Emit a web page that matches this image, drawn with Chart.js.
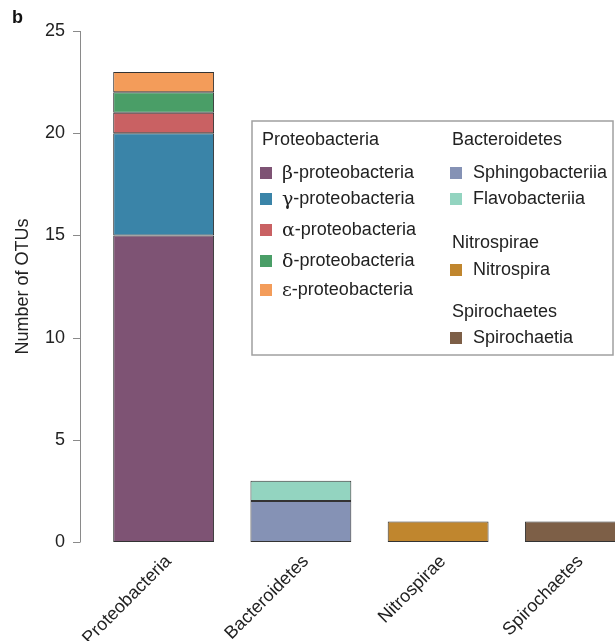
<!DOCTYPE html>
<html><head><meta charset="utf-8">
<script src="https://cdn.jsdelivr.net/npm/chart.js@4"></script>
<style>
html,body{margin:0;padding:0;background:#fff;overflow:hidden;width:615px;height:641px}
#wrap{position:relative;width:615px;height:641px;overflow:hidden}
canvas{position:absolute;left:0;top:0}
</style></head><body>
<div id="wrap"><canvas id="c" width="650" height="641"></canvas></div>
<script>
const categories = ['Proteobacteria', 'Bacteroidetes', 'Nitrospirae', 'Spirochaetes'];
const subclasses = ['β-proteobacteria', 'γ-proteobacteria', 'α-proteobacteria', 'δ-proteobacteria', 'ε-proteobacteria',
                    'Sphingobacteriia', 'Flavobacteriia', 'Nitrospira', 'Spirochaetia'];
const subclassPhylum = [0, 0, 0, 0, 0, 1, 1, 2, 3];
const otuCounts = [15, 5, 1, 1, 1, 2, 1, 1, 1];
const subclassColors = ['#7e5374', '#3a84a8', '#c96163', '#4a9e67', '#f39c5a',
                        '#8592b5', '#93d4c0', '#c0862e', '#7d5f47'];
const yTickValues = [0, 5, 10, 15, 20, 25];
const yAxisTitle = 'Number of OTUs';
const panelLabel = 'b';

const FONT = '"Liberation Sans", Arial, Helvetica, sans-serif';
const TEXT = '#222';
const FS = 18;

const datasets = subclasses.map((name, i) => ({
  label: name,
  data: categories.map((c, j) => j === subclassPhylum[i] ? otuCounts[i] : null),
  backgroundColor: subclassColors[i],
  borderColor: '#333333',
  borderWidth: 1,
  borderSkipped: false,
  stack: 's',
  categoryPercentage: 1,
  barPercentage: 0.735
}));

// legend layout (pixel positions of the legend panel)
const legendLayout = {
  box: {l: 252, t: 121, r: 613, b: 355},
  cols: [
    {hx: 262, sx: 260, tx: 282, rows: [['h', 0, 140], ['i', 0, 173], ['i', 1, 199], ['i', 2, 230], ['i', 3, 261], ['i', 4, 290]]},
    {hx: 452, sx: 450, tx: 473, rows: [['h', 1, 140], ['i', 5, 173], ['i', 6, 199], ['h', 2, 243], ['i', 7, 270], ['h', 3, 312], ['i', 8, 338]]}
  ]
};

const extras = {
  id: 'extras',
  afterDraw(chart) {
    const ctx = chart.ctx;
    const y = chart.scales.y;
    const ax = Math.round(chart.chartArea.left - 15) + 0.5;
    ctx.save();
    ctx.strokeStyle = '#8a8a8a';
    ctx.lineWidth = 1;
    ctx.beginPath();
    ctx.moveTo(ax, y.getPixelForValue(yTickValues[0]));
    ctx.lineTo(ax, y.getPixelForValue(yTickValues[yTickValues.length - 1]));
    yTickValues.forEach(v => {
      const py = Math.round(y.getPixelForValue(v)) + 0.5;
      ctx.moveTo(ax - 7.5, py);
      ctx.lineTo(ax, py);
    });
    ctx.stroke();

    // panel label
    ctx.fillStyle = '#111';
    ctx.font = 'bold 18px ' + FONT;
    ctx.textBaseline = 'alphabetic';
    ctx.textAlign = 'left';
    ctx.fillText(panelLabel, 12, 23);

    // legend
    const L = legendLayout;
    ctx.strokeStyle = '#a0a0a0';
    ctx.lineWidth = 1.5;
    ctx.strokeRect(L.box.l, L.box.t, L.box.r - L.box.l, L.box.b - L.box.t);
    ctx.textBaseline = 'middle';
    L.cols.forEach(col => {
      col.rows.forEach(([kind, idx, ry]) => {
        if (kind === 'h') {
          ctx.fillStyle = TEXT;
          ctx.font = FS + 'px ' + FONT;
          ctx.fillText(categories[idx], col.hx, ry);
        } else {
          ctx.fillStyle = subclassColors[idx];
          ctx.fillRect(col.sx, ry - 6, 12, 12);
          const name = subclasses[idx];
          ctx.fillStyle = TEXT;
          let x = col.tx;
          if (/^[α-ω]/.test(name)) {
            ctx.font = '19px "DejaVu Serif", "Liberation Serif", serif';
            ctx.fillText(name[0], x, ry + 1);
            x += ctx.measureText(name[0]).width;
            ctx.font = FS + 'px ' + FONT;
            ctx.fillText(name.slice(1), x, ry);
          } else {
            ctx.font = FS + 'px ' + FONT;
            ctx.fillText(name, x, ry);
          }
        }
      });
    });
    ctx.restore();
  }
};

new Chart(document.getElementById('c'), {
  type: 'bar',
  data: {labels: categories, datasets},
  options: {
    responsive: false,
    animation: false,
    layout: {padding: {top: 31, left: 0, right: 6, bottom: 0}},
    plugins: {legend: {display: false}, tooltip: {enabled: false}},
    scales: {
      x: {
        stacked: true,
        offset: true,
        grid: {display: false, drawTicks: false},
        border: {display: false},
        ticks: {minRotation: 45, maxRotation: 45, padding: 9, labelOffset: 5,
                color: TEXT, font: {family: FONT, size: FS}},
        afterFit(s) { s.height = 99; s.paddingTop = 0; s.paddingBottom = 0; }
      },
      y: {
        stacked: true,
        min: 0, max: 25,
        afterBuildTicks(s) { s.ticks = yTickValues.map(v => ({value: v})); },
        grid: {display: false, drawTicks: false, tickLength: 0},
        border: {display: false},
        ticks: {padding: 30, color: TEXT, font: {family: FONT, size: FS}},
        title: {display: true, text: yAxisTitle, color: TEXT,
                font: {family: FONT, size: FS}, padding: {top: 12, bottom: 0}},
        afterFit(s) { s.width = 95; s.paddingTop = 0; s.paddingBottom = 0; }
      }
    }
  },
  plugins: [extras]
});
</script>
</body></html>
